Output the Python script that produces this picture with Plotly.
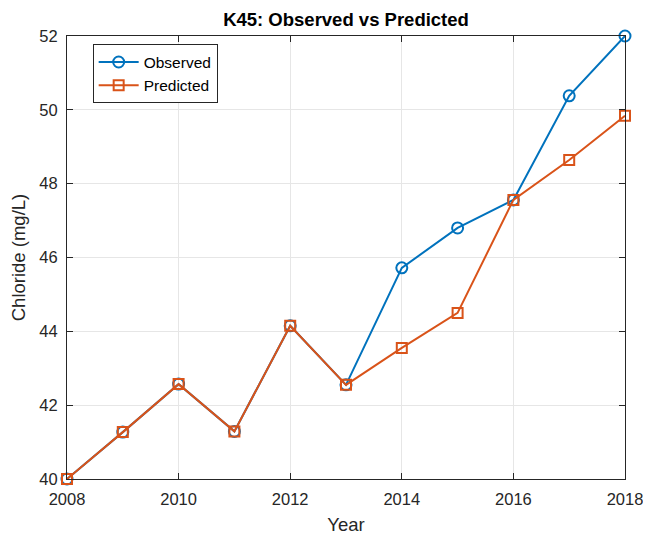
import plotly.graph_objects as go

# Datos
anios = [2008, 2009, 2010, 2011, 2012, 2013, 2014, 2015, 2016, 2017, 2018]
observado = [40.0, 41.27, 42.57, 41.29, 44.15, 42.55, 45.72, 46.80, 47.56, 50.38, 52.0]
predicho = [40.0, 41.27, 42.57, 41.29, 44.15, 42.55, 43.55, 44.50, 47.56, 48.64, 49.84]

AZUL = '#0072BD'
NARANJA = '#D95319'
TEXTO = '#262626'

fig = go.Figure()

fig.add_trace(go.Scatter(
    x=anios, y=observado, name='Observed',
    mode='lines+markers',
    line=dict(color=AZUL, width=2),
    marker=dict(symbol='circle-open', size=11, color=AZUL, line=dict(width=2, color=AZUL)),
    cliponaxis=False
))

fig.add_trace(go.Scatter(
    x=anios, y=predicho, name='Predicted',
    mode='lines+markers',
    line=dict(color=NARANJA, width=2),
    marker=dict(symbol='square-open', size=10, color=NARANJA, line=dict(width=2, color=NARANJA)),
    cliponaxis=False
))

# La pagina tiene 8 px de margen en el body, se compensa aqui
# (margen derecho algo mayor para que la etiqueta 2018 no se corte)
fig.update_layout(
    width=643, height=527,
    margin=dict(l=59, r=26, t=28, b=56),
    paper_bgcolor='white', plot_bgcolor='white',
    font=dict(family='Liberation Sans, Arial, sans-serif', size=16.5, color=TEXTO),
    title=dict(text='<b>K45: Observed vs Predicted</b>', x=0.5, xref='paper',
               y=1 - 12 / 527, yref='container', yanchor='middle',
               font=dict(size=18.5, color='black')),
    showlegend=True,
    legend=dict(x=0.046, y=0.981, xanchor='left', yanchor='top',
                bgcolor='white', bordercolor=TEXTO, borderwidth=1,
                font=dict(size=15.5, color='black'),
                tracegroupgap=0, itemwidth=40),
)

fig.update_xaxes(
    range=[2008, 2018], tickvals=[2008, 2010, 2012, 2014, 2016, 2018],
    showgrid=True, gridcolor='#E6E6E6', gridwidth=1,
    showline=True, linecolor=TEXTO, linewidth=1, mirror='ticks',
    ticks='inside', ticklen=6, tickcolor=TEXTO,
    ticklabelstandoff=5, automargin=False, ticklabeloverflow='allow',
    zeroline=False,
    title=dict(text='Year', font=dict(size=18.5), standoff=12),
)
fig.update_yaxes(
    range=[40, 52], tickvals=[40, 42, 44, 46, 48, 50, 52],
    showgrid=True, gridcolor='#E6E6E6', gridwidth=1,
    showline=True, linecolor=TEXTO, linewidth=1, mirror='ticks',
    ticks='inside', ticklen=6, tickcolor=TEXTO,
    ticklabelstandoff=5, automargin=False,
    zeroline=False,
    title=dict(text='Chloride (mg/L)', font=dict(size=18.5), standoff=10),
)

fig.write_html("out.html")
